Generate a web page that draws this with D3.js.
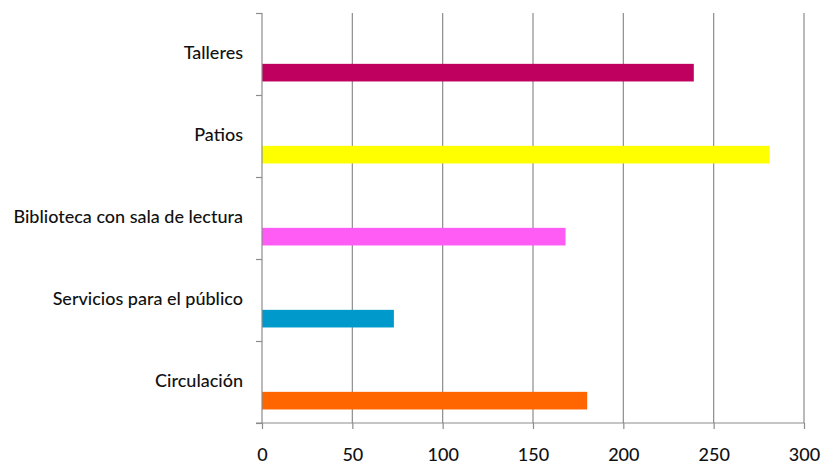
<!DOCTYPE html>
<html><head><meta charset="utf-8">
<script src="https://cdn.jsdelivr.net/npm/d3@7"></script>
<style>
body{margin:0;background:#fff;}
text{font-family:Lato,"Open Sans",sans-serif;fill:#111;}
</style></head>
<body><svg id="c" width="821" height="465"></svg>
<script>
const categories = ["Talleres","Patios","Biblioteca con sala de lectura","Servicios para el público","Circulación"];
const values = [239, 281, 168, 73, 180];
const colors = ["#C0005F","#FFFF00","#FF5BF5","#0099CC","#FF6600"];
const xTicks = [0,50,100,150,200,250,300];

const svg = d3.select("#c");
const m = {left:262, right:17, top:13, bottom:42};
const W = 821, H = 465;
const x = d3.scaleLinear().domain([0,300]).range([m.left, W-m.right]);
const y = d3.scaleBand().domain(categories).range([m.top, H-m.bottom]);

// gridlines
svg.append("g").selectAll("line").data(xTicks.slice(1)).join("line")
  .attr("x1",d=>x(d)).attr("x2",d=>x(d))
  .attr("y1",m.top).attr("y2",H-m.bottom)
  .attr("stroke","#8c8c8c").attr("stroke-width",1.2);

// bars
const bw = y.bandwidth();
svg.append("g").selectAll("rect").data(categories).join("rect")
  .attr("x",x(0))
  .attr("y",d=>y(d)+bw*0.62)
  .attr("width",(d,i)=>x(values[i])-x(0))
  .attr("height",bw*0.215)
  .attr("fill",(d,i)=>colors[i]);

// y axis
const yAxis = d3.axisLeft(d3.scaleLinear().domain([0,5]).range([m.top,H-m.bottom]))
  .tickValues([0,1,2,3,4,5]).tickSize(6).tickFormat("");
const ya = svg.append("g").attr("transform",`translate(${x(0)},0)`).call(yAxis);
ya.selectAll("path,line").attr("stroke","#8c8c8c").attr("stroke-width",1.2);
ya.select(".domain").remove();
ya.append("line").attr("x1",0).attr("x2",0).attr("y1",m.top).attr("y2",H-m.bottom).attr("stroke","#8c8c8c").attr("stroke-width",1.2);

// category labels
svg.append("g").selectAll("text").data(categories).join("text")
  .attr("x",243).attr("y",d=>y(d)+bw*0.5)
  .attr("text-anchor","end").attr("dominant-baseline","middle")
  .style("font-size","18px").style("font-weight","500").text(d=>d);

// x axis
const xAxis = d3.axisBottom(x).tickValues(xTicks).tickSize(6).tickSizeOuter(0).tickPadding(19);
const xa = svg.append("g").attr("transform",`translate(0,${H-m.bottom})`).call(xAxis);
xa.select(".domain").attr("d",`M${x(0)-6},0H${x(300)}`);
xa.selectAll("path,line").attr("stroke","#8c8c8c").attr("stroke-width",1.2);
xa.selectAll("text").style("font-size","18px").style("font-weight","500").attr("fill","#111")
  .style("font-family","Lato,sans-serif");
</script></body></html>
